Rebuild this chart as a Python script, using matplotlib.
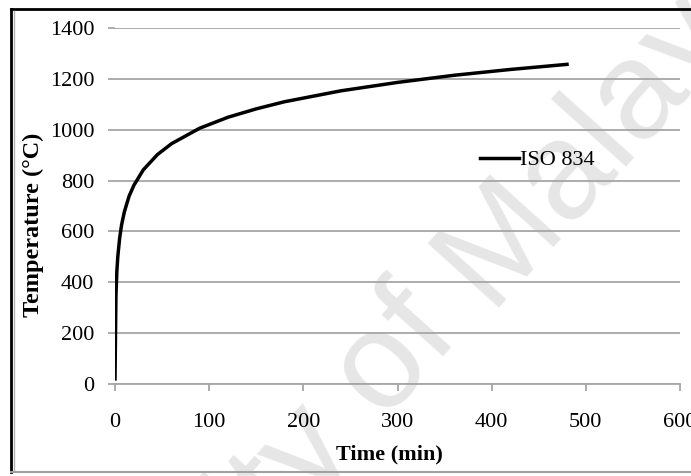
import matplotlib.pyplot as plt
from matplotlib.lines import Line2D

# ISO 834 standard fire curve
time_min = [0, 1, 2, 3, 5, 7, 10, 15, 20, 30, 45, 60, 90, 120, 150, 180, 240, 300, 360, 420, 480]
temp_c = [20, 349, 445, 502, 576, 626, 678, 739, 781, 842, 902, 945, 1006, 1049, 1082, 1110, 1153, 1186, 1214, 1237, 1257]
series_name = "ISO 834"
x_ticks = [0, 100, 200, 300, 400, 500, 600]
y_ticks = [0, 200, 400, 600, 800, 1000, 1200, 1400]

plt.rcParams['font.family'] = ['Liberation Serif', 'DejaVu Serif']

fig = plt.figure(figsize=(6.91, 4.76), dpi=100)
ax = fig.add_axes([115 / 691, 1 - 384 / 476, 565 / 691, 356 / 476])
ax.patch.set_alpha(0)

grid_col = '#a6a6a6'
ax.plot(time_min, temp_c, color='black', lw=2.5, label=series_name, zorder=3)

ax.set_xlim(0, 600)
ax.set_ylim(0, 1400)
ax.set_xticks(x_ticks)
ax.set_yticks(y_ticks)
ax.yaxis.grid(True, color=grid_col, lw=1.3)
ax.set_axisbelow(True)
for s in ['top', 'right', 'left']:
    ax.spines[s].set_visible(False)
ax.spines['bottom'].set_color(grid_col)
ax.spines['bottom'].set_linewidth(1.3)
ax.tick_params(axis='x', colors=grid_col, length=5, width=1.3, pad=16, labelsize=16, labelcolor='black')
ax.tick_params(axis='y', colors=grid_col, length=5, width=1.3, pad=10, labelsize=16, labelcolor='black')

ax.set_xlabel("Time (min)", fontsize=16, fontweight='bold', va='center')
ax.xaxis.set_label_coords((389 - 115) / 565, (384 - 454) / 356)
ax.set_ylabel("Temperature (°C)", fontsize=17.5, fontweight='bold', va='center')
ax.yaxis.set_label_coords((33 - 115) / 565, (384 - 225) / 356)

ax.legend(loc='center left', bbox_to_anchor=(480 / 691, 1 - 160 / 476), bbox_transform=fig.transFigure,
          frameon=False, fontsize=16, handlelength=1.75, handletextpad=0.05, borderpad=0, borderaxespad=0)

# watermark, behind the chart
wm = dict(rotation=48, rotation_mode='anchor', fontsize=100, color='#e6e6e6',
          family='Liberation Sans', va='baseline', zorder=-1)
fig.text(488 / 691, 1 - 308 / 476, "University of ", ha='right', **wm)
fig.text(488 / 691, 1 - 308 / 476, "Malaya", ha='left', **wm)

# outer frame
fig.add_artist(Line2D([11 / 691, 1], [1 - 9 / 476] * 2, color='black', lw=2))
fig.add_artist(Line2D([11 / 691] * 2, [1 - 9 / 476, 1 - 472 / 476], color='black', lw=2))
fig.add_artist(Line2D([14 / 691] * 2, [1 - 11 / 476, 1 - 470 / 476], color='#b0b0b0', lw=1))
fig.add_artist(Line2D([11 / 691, 1], [1 - 472 / 476] * 2, color='#a0a0a0', lw=1.5))

fig.savefig('out.png', dpi=100)
